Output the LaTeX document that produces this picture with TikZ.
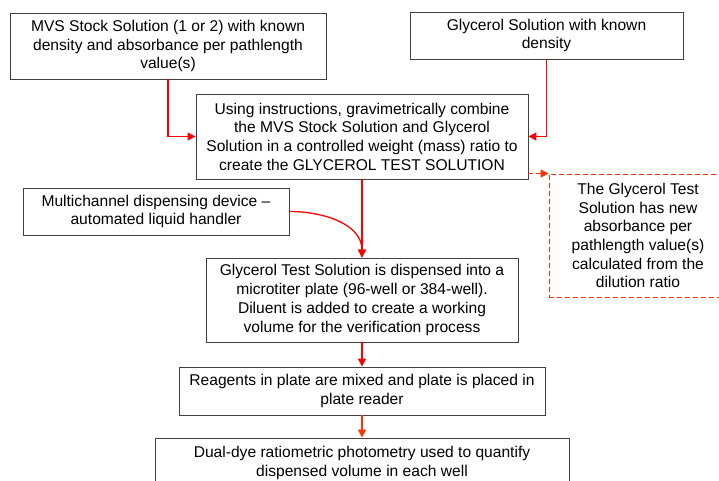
\documentclass[tikz,border=0pt]{standalone}
\usepackage{fontspec}
\setmainfont{Liberation Sans}
\usetikzlibrary{arrows.meta}
\definecolor{boxline}{HTML}{404040}
\definecolor{lred}{HTML}{FF0000}
\definecolor{ored}{HTML}{FF3300}
\tikzset{
  box/.style={draw=boxline, line width=0.9pt, align=center, inner sep=0pt,
    font=\fontsize{15.6pt}{18.7pt}\selectfont},
  dbox/.style={draw=ored, line width=0.9pt, dash pattern=on 5pt off 3pt, align=center, inner sep=0pt,
    font=\fontsize{15.6pt}{18.7pt}\selectfont},
  link/.style={draw=lred, line width=1.3pt, -{Triangle[length=8pt,width=8pt]}},
  olink/.style={draw=ored, line width=1.3pt, -{Triangle[length=8pt,width=8pt]}},
  dlink/.style={draw=ored, line width=0.9pt, dash pattern=on 5pt off 3pt, -{Triangle[length=8pt,width=8pt]}}
}
\begin{document}
\begin{tikzpicture}[x=1pt,y=-1pt]
\useasboundingbox[fill=white] (0,0) rectangle (719,480);
\node[box, minimum width=316pt, minimum height=66pt] (A) at (168,46)
  {MVS Stock Solution (1 or 2) with known\\density and absorbance per pathlength\\value(s)};
\node[box, minimum width=273pt, minimum height=47pt] (B) at (546.5,35.5)
  {Glycerol Solution with known\\density};
\node[box, minimum width=332pt, minimum height=85pt] (C) at (362,136.5)
  {Using instructions, gravimetrically combine\\the MVS Stock Solution and Glycerol\\Solution in a controlled weight (mass) ratio to\\create the GLYCEROL TEST SOLUTION};
\node[dbox, minimum width=178pt, minimum height=123pt] (D) at (638,235.5)
  {The Glycerol Test\\Solution has new\\absorbance per\\pathlength value(s)\\calculated from the\\dilution ratio};
\node[box, minimum width=266pt, minimum height=47pt] (E) at (156,211.5)
  {Multichannel dispensing device --\\automated liquid handler};
\node[box, minimum width=312pt, minimum height=84pt] (F) at (362,300)
  {Glycerol Test Solution is dispensed into a\\microtiter plate (96-well or 384-well).\\Diluent is added to create a working\\volume for the verification process};
\node[box, minimum width=366pt, minimum height=48pt] (G) at (362,391)
  {Reagents in plate are mixed and plate is placed in\\plate reader};
\node[box, minimum width=414pt, minimum height=50pt] (H) at (362,463)
  {Dual-dye ratiometric photometry used to quantify\\dispensed volume in each well};
\draw[link] (A.south) |- (C.west);
\draw[link] (B.south) |- (C.east);
\draw[link] (C.south) -- (F.north);
\draw[link] (E.east) to[out=0,in=90] (F.north);
\draw[link] (F.south) -- (G.north);
\draw[olink] (G.south) -- (H.north);
\draw[dlink] (C.east |- D.north west) -- (D.north west);
\end{tikzpicture}
\end{document}
